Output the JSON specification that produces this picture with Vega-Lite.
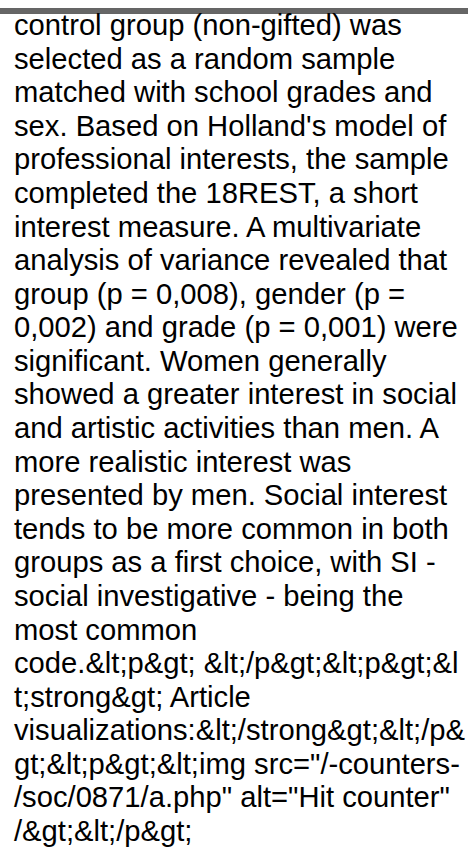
{
  "$schema": "https://vega.github.io/schema/vega-lite/v6.json",
  "width": 454,
  "height": 850,
  "autosize": "none",
  "padding": {"left": 14, "top": 0, "right": 0, "bottom": 0},
  "background": "white",
  "config": {"view": {"stroke": null}},
  "data": {"values": [
    {"line": 1, "text": "control group (non-gifted) was"},
    {"line": 2, "text": "selected as a random sample"},
    {"line": 3, "text": "matched with school grades and"},
    {"line": 4, "text": "sex. Based on Holland's model of"},
    {"line": 5, "text": "professional interests, the sample"},
    {"line": 6, "text": "completed the 18REST, a short"},
    {"line": 7, "text": "interest measure. A multivariate"},
    {"line": 8, "text": "analysis of variance revealed that"},
    {"line": 9, "text": "group (p = 0,008), gender (p ="},
    {"line": 10, "text": "0,002) and grade (p = 0,001) were"},
    {"line": 11, "text": "significant. Women generally"},
    {"line": 12, "text": "showed a greater interest in social"},
    {"line": 13, "text": "and artistic activities than men. A"},
    {"line": 14, "text": "more realistic interest was"},
    {"line": 15, "text": "presented by men. Social interest"},
    {"line": 16, "text": "tends to be more common in both"},
    {"line": 17, "text": "groups as a first choice, with SI -"},
    {"line": 18, "text": "social investigative - being the"},
    {"line": 19, "text": "most common"},
    {"line": 20, "text": "code.&lt;p&gt; &lt;/p&gt;&lt;p&gt;&l"},
    {"line": 21, "text": "t;strong&gt; Article"},
    {"line": 22, "text": "visualizations:&lt;/strong&gt;&lt;/p&"},
    {"line": 23, "text": "gt;&lt;p&gt;&lt;img src=\"/-counters-"},
    {"line": 24, "text": "/soc/0871/a.php\" alt=\"Hit counter\""},
    {"line": 25, "text": "/&gt;&lt;/p&gt;"}
  ]},
  "encoding": {
    "y": {"field": "line", "type": "quantitative", "scale": {"domain": [1, 25], "range": [35, 841]}, "axis": null}
  },
  "layer": [
    {
      "mark": {"type": "rule", "stroke": "#666666", "strokeWidth": 5, "x": -14, "x2": 454},
      "encoding": {
        "y": {"datum": 0.28, "type": "quantitative"}
      }
    },
    {
      "mark": {"type": "text", "align": "left", "baseline": "alphabetic", "font": "Liberation Sans", "fontSize": 29.2, "fill": "#000000", "x": 0},
      "encoding": {
        "text": {"field": "text"}
      }
    }
  ]
}
